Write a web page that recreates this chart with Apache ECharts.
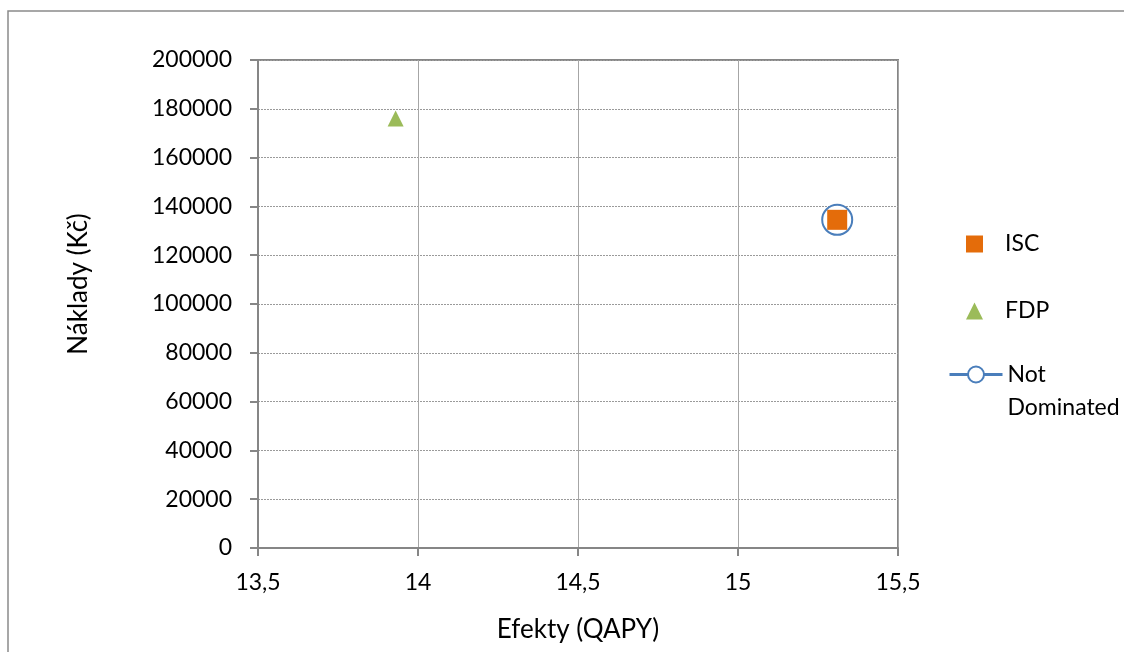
<!DOCTYPE html>
<html>
<head>
<meta charset="utf-8">
<script src="https://cdn.jsdelivr.net/npm/echarts@6/dist/echarts.min.js"></script>
<style>
  html, body { margin: 0; padding: 0; background: #fff; }
  #chart { width: 1124px; height: 652px; }
</style>
</head>
<body>
<div id="chart"></div>
<script>
// Cost-effectiveness plane: QALY effects vs. costs (Kč)
const xTickValues = [13.5, 14, 14.5, 15, 15.5];
const xTickLabels = ['13,5', '14', '14,5', '15', '15,5'];

const iscPoints = [[15.31, 134500]];
const fdpPoints = [[13.93, 176000]];
const notDominatedPoints = [[15.31, 134500]];

const FONT = 'Lato';
const AXIS_GRAY = '#868686';
const BLUE = '#4A7EBB';

const chart = echarts.init(document.getElementById('chart'), null, { renderer: 'canvas' });

const tickText = { fontFamily: FONT, fontSize: 23, color: '#000' };
const nameText = { fontFamily: FONT, fontSize: 26, color: '#000', lineHeight: 31 };

chart.setOption({
  animation: false,
  backgroundColor: '#fff',
  graphic: [{
    type: 'rect',
    shape: { x: 8, y: 11, width: 1200, height: 700 },
    style: { fill: 'none', stroke: '#8a8a8a', lineWidth: 1.5 },
    silent: true,
    z: -10
  }],
  grid: {
    left: 258, top: 60, right: 226, bottom: 104,
    show: true, borderColor: AXIS_GRAY, borderWidth: 2
  },
  legend: [{
    orient: 'vertical',
    left: 961, top: 225,
    itemWidth: 17, itemHeight: 17,
    itemGap: 39,
    data: ['ISC', 'FDP'],
    formatter: name => '{s|}' + name,
    textStyle: Object.assign({}, tickText, {
      lineHeight: 28,
      rich: { s: { width: 17 } }
    }),
    selectedMode: false
  }, {
    orient: 'vertical',
    left: 943, top: 320,
    itemWidth: 53, itemHeight: 20,
    data: ['Not Dominated'],
    lineStyle: { width: 3 },
    // leading empty line keeps "Not" level with the icon
    formatter: () => ' \nNot\nDominated',
    textStyle: Object.assign({}, tickText, { lineHeight: 33 }),
    selectedMode: false
  }],
  xAxis: {
    type: 'value',
    min: 13.5, max: 15.5, interval: 0.5,
    name: 'Efekty (QAPY)',
    nameLocation: 'middle',
    nameGap: 66,
    nameTextStyle: nameText,
    axisLine: { show: true, onZero: false, lineStyle: { color: AXIS_GRAY, width: 2 } },
    axisTick: { show: true, inside: false, length: 8, lineStyle: { color: AXIS_GRAY, width: 2 } },
    axisLabel: Object.assign({}, tickText, {
      margin: 21,
      lineHeight: 28,
      formatter: v => {
        const i = xTickValues.findIndex(t => Math.abs(t - v) < 1e-9);
        return i >= 0 ? xTickLabels[i] : String(v).replace('.', ',');
      }
    }),
    splitLine: { show: true, lineStyle: { color: '#a6a6a6', width: 1, type: 'solid' } }
  },
  yAxis: {
    type: 'value',
    min: 0, max: 200000, interval: 20000,
    name: 'Náklady (Kč)',
    nameLocation: 'middle',
    nameGap: 164,
    nameRotate: 90,
    nameTextStyle: Object.assign({}, nameText, { padding: [0, 0, 0, 40] }),
    axisLine: { show: true, onZero: false, lineStyle: { color: AXIS_GRAY, width: 2 } },
    axisTick: { show: true, inside: false, length: 8, lineStyle: { color: AXIS_GRAY, width: 2 } },
    axisLabel: Object.assign({}, tickText, { margin: 26, formatter: v => String(v) }),
    splitLine: { show: true, lineStyle: { color: '#9a9a9a', width: 1, type: [2, 1] } }
  },
  series: [{
    name: 'ISC',
    type: 'scatter',
    data: iscPoints,
    symbol: 'rect',
    symbolSize: 20,
    itemStyle: { color: '#E46C0A', opacity: 1 },
    z: 5
  }, {
    name: 'FDP',
    type: 'scatter',
    data: fdpPoints,
    symbol: 'triangle',
    symbolSize: 16,
    itemStyle: { color: '#9BBB59', opacity: 1 },
    z: 4
  }, {
    name: 'Not Dominated',
    type: 'line',
    data: notDominatedPoints,
    symbol: 'emptyCircle',
    symbolSize: 30,
    showSymbol: true,
    lineStyle: { color: BLUE, width: 3 },
    itemStyle: { color: BLUE, borderWidth: 2 },
    z: 3
  }]
});
</script>
</body>
</html>
